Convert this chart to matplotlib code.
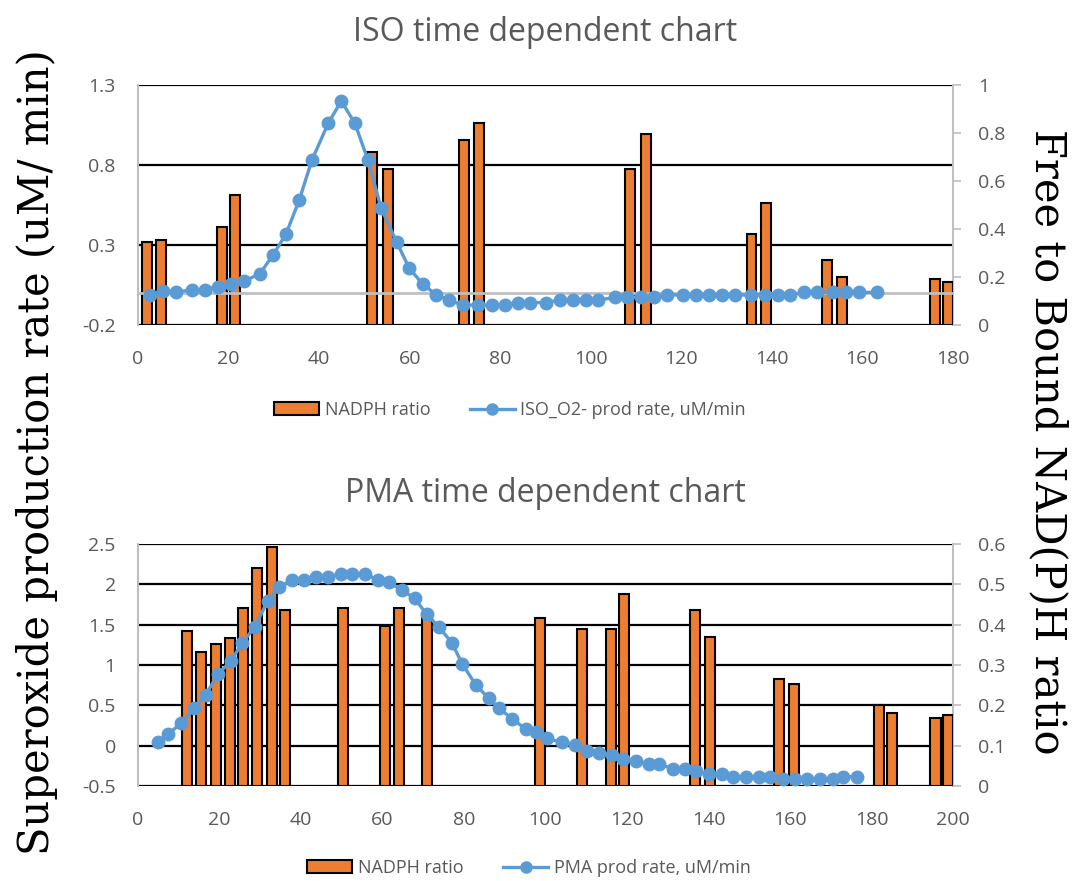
import matplotlib.pyplot as plt
from matplotlib.patches import Patch
from matplotlib.lines import Line2D

# ISO chart
iso_bar_t = [2, 5, 18.5, 21.5, 51.7, 55.2, 72, 75.4, 108.6, 112.1, 135.5, 138.7, 152.2, 155.5, 176, 179]
iso_bar_ratio = [0.345, 0.355, 0.41, 0.54, 0.72, 0.65, 0.77, 0.84, 0.65, 0.795, 0.38, 0.51, 0.27, 0.20, 0.19, 0.18]
iso_t = [2.65, 5.45, 8.4, 11.9, 14.8, 17.6, 20.5, 23.5, 26.9, 29.9, 32.7, 35.6, 38.4, 42.0, 44.9,
         47.9, 50.8, 53.7, 57.1, 59.9, 62.9, 65.8, 68.7, 71.7, 75.2, 78.1, 81.0, 83.9, 86.6, 90.0,
         93.2, 96.0, 98.9, 101.7, 105.4, 108.1, 111.1, 114.0, 116.9, 120.3, 123.2, 126.2, 129.0,
         131.9, 135.4, 138.4, 141.3, 144.1, 147.1, 149.9, 153.4, 156.4, 159.3, 163.3]
iso_rate = [-0.01, 0.01, 0.005, 0.02, 0.02, 0.04, 0.055, 0.075, 0.12, 0.24, 0.37, 0.58, 0.83, 1.06, 1.20,
            1.06, 0.83, 0.53, 0.32, 0.155, 0.055, -0.01, -0.045, -0.075, -0.075, -0.075, -0.075, -0.06,
            -0.06, -0.06, -0.044, -0.044, -0.044, -0.044, -0.027, -0.027, -0.027, -0.027, -0.012,
            -0.012, -0.012, -0.012, -0.012, -0.012, -0.012, -0.012, -0.012, -0.012, 0.004, 0.004,
            0.004, 0.004, 0.004, 0.004]
iso_left_ticks = [-0.2, 0.3, 0.8, 1.3]
iso_right_ticks = [0, 0.2, 0.4, 0.6, 0.8, 1]

# PMA chart
pma_bar_t = [12.0, 15.5, 19.1, 22.6, 25.8, 29.3, 32.9, 36.1, 50.4, 60.7, 64.0, 71.0, 98.7, 109.0,
             116.1, 119.3, 136.7, 140.3, 157.4, 160.9, 181.8, 185.0, 195.7, 198.7]
pma_bar_ratio = [0.385, 0.332, 0.352, 0.366, 0.442, 0.540, 0.592, 0.436, 0.442, 0.396, 0.442, 0.429,
                 0.417, 0.390, 0.390, 0.476, 0.436, 0.370, 0.266, 0.253, 0.202, 0.182, 0.169, 0.175]
pma_t = [4.8, 7.4, 10.6, 13.8, 16.6, 19.6, 22.8, 25.6, 28.7, 31.8, 34.6, 37.7, 40.8, 43.6, 46.7,
         49.9, 52.5, 55.7, 59.0, 61.6, 64.8, 67.9, 70.8, 73.8, 77.0, 79.6, 82.9, 86.1, 88.6, 91.9,
         95.2, 97.6, 100.3, 104.0, 107.2, 110.1, 113.1, 116.2, 119.1, 122.2, 125.3, 127.9, 131.2,
         134.3, 136.9, 140.2, 143.3, 146.1, 149.2, 152.3, 155.1, 158.4, 161.3, 164.1, 167.4, 170.5,
         173.1, 176.4]
pma_rate = [0.04, 0.144, 0.277, 0.463, 0.628, 0.884, 1.049, 1.276, 1.474, 1.796, 1.962, 2.053, 2.053,
            2.086, 2.094, 2.127, 2.127, 2.127, 2.053, 2.024, 1.929, 1.826, 1.631, 1.474, 1.276, 1.012,
            0.752, 0.587, 0.463, 0.330, 0.203, 0.173, 0.091, 0.041, 0.008, -0.063, -0.095, -0.120,
            -0.162, -0.186, -0.227, -0.227, -0.286, -0.286, -0.318, -0.351, -0.351, -0.385, -0.385,
            -0.385, -0.385, -0.413, -0.413, -0.413, -0.413, -0.413, -0.385, -0.385]
pma_left_ticks = [-0.5, 0, 0.5, 1, 1.5, 2, 2.5]
pma_right_ticks = [0, 0.1, 0.2, 0.3, 0.4, 0.5, 0.6]

ORANGE = '#ED7D31'
BLUE = '#5B9BD5'
GRAY = '#595959'
AXGRAY = '#BFBFBF'
tickfont = ['Open Sans', 'DejaVu Sans']


def fmt(v):
    return ('%g' % v)


def panel(rect, title, title_pad, bar_t, bar_v, bar_w, t, rate, lticks, rticks, xmax, line_label, zero_line):
    ax = fig.add_axes(rect)
    axb = ax.twinx()
    ax.set_zorder(axb.get_zorder() + 1)
    ax.patch.set_visible(False)

    lo, hi = lticks[0], lticks[-1]
    rlo, rhi = rticks[0], rticks[-1]
    axb.bar(bar_t, bar_v, width=bar_w, color=ORANGE, edgecolor='black', linewidth=1.5, zorder=3)
    axb.set_ylim(rlo, rhi)
    # gridlines follow the left axis ticks, drawn behind the bars
    grid_r = [rlo + (v - lo) / (hi - lo) * (rhi - rlo) for v in lticks]
    axb.yaxis.remove_overlapping_locs = False
    axb.set_yticks(rticks)
    axb.set_yticks(grid_r, minor=True)
    axb.grid(which='minor', axis='y', color='black', linewidth=1.6, zorder=0)
    axb.set_axisbelow(True)
    axb.set_yticklabels([fmt(v) for v in rticks], color=GRAY, fontsize=14, family=tickfont)
    axb.tick_params(axis='y', which='major', length=6, width=1.2, color=AXGRAY, pad=12)
    axb.tick_params(axis='y', which='minor', length=0)
    for gl in axb.yaxis.get_gridlines():
        gl.set_clip_on(False)

    if zero_line:
        ax.axhline(0, color=AXGRAY, linewidth=2, zorder=2)
    ax.plot(t, rate, color=BLUE, linewidth=2.4, marker='o', markersize=9, zorder=4)
    ax.set_ylim(lo, hi)
    ax.set_xlim(0, xmax)
    ax.set_yticks(lticks)
    ax.set_yticklabels([fmt(v) for v in lticks], color=GRAY, fontsize=14, family=tickfont)
    ax.set_xticks(range(0, xmax + 1, 20))
    ax.set_xticklabels([str(v) for v in range(0, xmax + 1, 20)], color=GRAY, fontsize=14, family=tickfont)
    ax.tick_params(axis='y', length=0, pad=16)
    ax.tick_params(axis='x', length=0, pad=18)

    for a in (ax, axb):
        for s in ('top', 'bottom', 'left', 'right'):
            a.spines[s].set_visible(False)
    for s in ('left', 'right'):
        axb.spines[s].set_visible(True)
        axb.spines[s].set_color(AXGRAY)
        axb.spines[s].set_linewidth(1.5)

    ax.set_title(title, color=GRAY, fontsize=23, family='Open Sans', pad=title_pad)

    handles = [Patch(facecolor=ORANGE, edgecolor='black', linewidth=1.5),
               Line2D([], [], color=BLUE, linewidth=2.4, marker='o', markersize=8)]
    return ax, handles, line_label


fig = plt.figure(figsize=(10.79, 8.81), dpi=100)
W, H = 1079, 881

ax1, h1, l1 = panel([138 / W, 1 - 325 / H, 815 / W, 240 / H], 'ISO time dependent chart', 32,
                    iso_bar_t, iso_bar_ratio, 2.2, iso_t, iso_rate, iso_left_ticks, iso_right_ticks,
                    180, 'ISO_O2- prod rate, uM/min', True)
fig.legend(h1, ['NADPH ratio', l1], loc='center', bbox_to_anchor=(510 / W, 1 - 410 / H), ncol=2,
           frameon=False, handlelength=2.5, columnspacing=2.2, handletextpad=0.3,
           prop={'family': 'Open Sans', 'size': 13}, labelcolor=GRAY)

ax2, h2, l2 = panel([138 / W, 1 - 786 / H, 815 / W, 242 / H], 'PMA time dependent chart', 30,
                    pma_bar_t, pma_bar_ratio, 2.5, pma_t, pma_rate, pma_left_ticks, pma_right_ticks,
                    200, 'PMA prod rate, uM/min', False)
fig.legend(h2, ['NADPH ratio', l2], loc='center', bbox_to_anchor=(529 / W, 1 - 868 / H), ncol=2,
           frameon=False, handlelength=2.5, columnspacing=2.2, handletextpad=0.3,
           prop={'family': 'Open Sans', 'size': 13}, labelcolor=GRAY)

fig.text(37 / W, 1 - 452 / H, 'Superoxide production rate (uM/ min)', rotation=90,
         ha='center', va='center', fontsize=30, family='DejaVu Serif')
fig.text(1048 / W, 1 - 442 / H, 'Free to Bound NAD(P)H ratio', rotation=270,
         ha='center', va='center', fontsize=30, family='DejaVu Serif')

fig.savefig('out.png', dpi=100)
